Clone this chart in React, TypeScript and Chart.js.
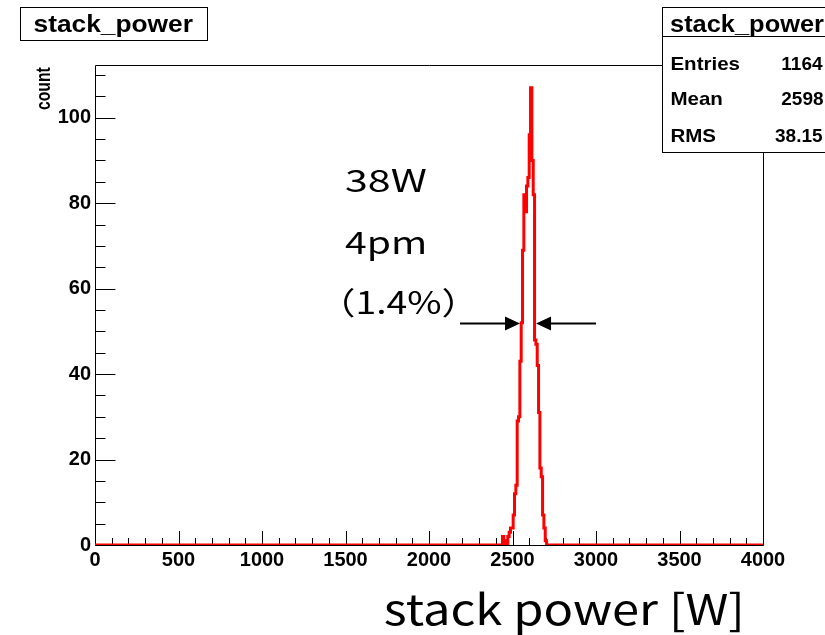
import React, { useEffect, useRef } from 'react';
import { Chart, registerables } from 'chart.js';

Chart.register(...registerables);

// ---- data ----
const binStart = 2440; // W, left edge of first listed bin
const binWidth = 8; // W
const counts = [
  2, 0, 1, 0, 2, 3, 4, 4, 7, 12, 14, 29, 30, 43, 52, 69, 82, 78, 84, 86, 96,
  107, 90, 82, 48, 47, 42, 31, 18, 16, 7, 4, 1,
];
const xMin = 0;
const xMax = 4000;
const yMin = 0;
const yMax = 112.35;
const xTickStep = 500;
const xMinorStep = 100;
const yTickStep = 20;
const yMinorStep = 5;

const histTitle = 'stack_power';
const statsLabels = ['Entries', 'Mean', 'RMS'];
const statsValues = ['1164', '2598', '38.15'];
const noteLines = ['38W', '4pm', '（1.4%）'];
const fwhmLeft = 2545;
const fwhmRight = 2641;
const fwhmLevel = 52;
const xTitle = 'stack power [W]';
const yTitle = 'count';

const BOLD = "'Liberation Sans', Arial, Helvetica, sans-serif";
const JP = "'Noto Sans CJK JP', 'Noto Sans', sans-serif";

function fitInk(ctx: CanvasRenderingContext2D, text: string, L: number, R: number, baseline: number, font: string) {
  ctx.font = font;
  ctx.textAlign = 'left';
  ctx.textBaseline = 'alphabetic';
  const m = ctx.measureText(text);
  const abl = m.actualBoundingBoxLeft;
  const abr = m.actualBoundingBoxRight;
  const inkW = abl + abr;
  const sx = inkW > 0 ? (R - L) / inkW : 1;
  const ox = L + abl * sx;
  ctx.save();
  ctx.translate(ox, baseline);
  ctx.scale(sx, 1);
  ctx.fillText(text, 0, 0);
  ctx.restore();
}

function drawScaled(
  ctx: CanvasRenderingContext2D,
  text: string,
  x: number,
  baseline: number,
  font: string,
  align: 'left' | 'right',
  sx: number
) {
  ctx.font = font;
  ctx.textAlign = 'left';
  ctx.textBaseline = 'alphabetic';
  const m = ctx.measureText(text);
  const ox = align === 'left' ? x + m.actualBoundingBoxLeft * sx : x - m.actualBoundingBoxRight * sx;
  ctx.save();
  ctx.translate(ox, baseline);
  ctx.scale(sx, 1);
  ctx.fillText(text, 0, 0);
  ctx.restore();
}

const decor = {
  id: 'decor',
  beforeDatasetsDraw(chart: any) {
    const { ctx, chartArea: a, scales } = chart;
    const x = scales.x;
    const y = scales.y;
    ctx.save();
    ctx.strokeStyle = '#000';
    ctx.lineWidth = 1;
    const L = Math.round(a.left) + 0.5;
    const T = Math.round(a.top) + 0.5;
    const R = Math.round(a.right) + 0.5;
    const B = Math.round(a.bottom) + 0.5;
    ctx.beginPath();
    ctx.moveTo(L, T);
    ctx.lineTo(R, T);
    ctx.lineTo(R, B);
    ctx.lineTo(L, B);
    ctx.closePath();
    ctx.stroke();
    ctx.beginPath();
    for (let v = xMin; v <= xMax + 1e-6; v += xMinorStep) {
      const px = Math.round(x.getPixelForValue(v)) + 0.5;
      const len = Math.abs(v % xTickStep) < 1e-6 ? 14.5 : 7.5;
      ctx.moveTo(px, B);
      ctx.lineTo(px, B - len);
    }
    for (let v = yMin; v <= yMax + 1e-6; v += yMinorStep) {
      const py = Math.round(y.getPixelForValue(v)) + 0.5;
      const len = Math.abs(v % yTickStep) < 1e-6 ? 20 : 10;
      ctx.moveTo(L, py);
      ctx.lineTo(L + len, py);
    }
    ctx.stroke();
    ctx.restore();
  },
  afterDraw(chart: any) {
    const { ctx, scales } = chart;
    const x = scales.x;
    const y = scales.y;
    ctx.save();
    ctx.fillStyle = '#000';
    ctx.strokeStyle = '#000';
    ctx.lineWidth = 1;

    // title box
    ctx.fillStyle = '#fff';
    ctx.fillRect(20.5, 7.5, 187, 33);
    ctx.strokeRect(20.5, 7.5, 187, 33);
    ctx.fillStyle = '#000';
    fitInk(ctx, histTitle, 33.5, 193, 31.5, `bold 23px ${BOLD}`);

    // stats box
    ctx.fillStyle = '#fff';
    ctx.fillRect(662.5, 7.5, 170, 145);
    ctx.strokeRect(662.5, 7.5, 170, 145);
    ctx.beginPath();
    ctx.moveTo(662.5, 36.5);
    ctx.lineTo(830, 36.5);
    ctx.stroke();
    ctx.fillStyle = '#000';
    fitInk(ctx, histTitle, 670, 824, 31.5, `bold 23px ${BOLD}`);
    const rowBase = [69.5, 105, 141.5];
    statsLabels.forEach((s, i) => drawScaled(ctx, s, 671.5, rowBase[i], `bold 19px ${BOLD}`, 'left', 1.08));
    statsValues.forEach((s, i) => drawScaled(ctx, s, 823, rowBase[i], `bold 19px ${BOLD}`, 'right', 1.0));

    // annotation
    const noteR = [426.5, 425, 453.5];
    const noteL = [345, 345, 343.5];
    const noteB = [191.5, 253.5, 313.5];
    noteLines.forEach((s, i) => fitInk(ctx, s, noteL[i], noteR[i], noteB[i], `31px ${JP}`));

    // FWHM arrows
    const ay = Math.round(y.getPixelForValue(fwhmLevel)) + 0.5;
    const lt = x.getPixelForValue(fwhmLeft);
    const rt = x.getPixelForValue(fwhmRight);
    ctx.lineWidth = 2;
    ctx.beginPath();
    ctx.moveTo(lt - 60, ay);
    ctx.lineTo(lt - 10, ay);
    ctx.moveTo(rt + 10, ay);
    ctx.lineTo(rt + 60, ay);
    ctx.stroke();
    ctx.beginPath();
    ctx.moveTo(lt, ay);
    ctx.lineTo(lt - 15, ay - 7);
    ctx.lineTo(lt - 15, ay + 7);
    ctx.closePath();
    ctx.moveTo(rt, ay);
    ctx.lineTo(rt + 15, ay - 7);
    ctx.lineTo(rt + 15, ay + 7);
    ctx.closePath();
    ctx.fill();

    // axis titles
    fitInk(ctx, xTitle, 385, 740, 625, `42px ${JP}`);
    ctx.save();
    ctx.translate(50, 110);
    ctx.rotate(-Math.PI / 2);
    fitInk(ctx, yTitle, 0, 43, 0, `bold 20px ${BOLD}`);
    ctx.restore();

    ctx.restore();
  },
};

export default function App() {
  const ref = useRef<HTMLCanvasElement | null>(null);
  useEffect(() => {
    if (!ref.current) return;
    const points: { x: number; y: number }[] = [{ x: xMin, y: 0 }];
    counts.forEach((c, i) => points.push({ x: binStart + i * binWidth, y: c }));
    points.push({ x: binStart + counts.length * binWidth, y: 0 });
    points.push({ x: xMax, y: 0 });

    const tickFont = { family: BOLD, size: 20, weight: 'bold' as const };
    const chart = new Chart(ref.current, {
      type: 'line',
      data: {
        datasets: [
          {
            data: points,
            borderColor: '#ff0000',
            borderWidth: 3,
            stepped: 'before',
            pointRadius: 0,
            fill: false,
            tension: 0,
          },
        ],
      },
      options: {
        responsive: false,
        animation: false,
        devicePixelRatio: 1,
        parsing: false as any,
        layout: { padding: { top: 65, right: 62, left: 0, bottom: 0 } },
        plugins: { legend: { display: false }, tooltip: { enabled: false }, title: { display: false } },
        scales: {
          x: {
            type: 'linear',
            min: xMin,
            max: xMax,
            afterFit: (s: any) => {
              s.height = 90;
            },
            grid: { display: false, drawTicks: false },
            border: { display: false },
            ticks: {
              stepSize: xTickStep,
              font: tickFont,
              color: '#000',
              padding: 3,
              maxRotation: 0,
              autoSkip: false,
              callback: (v: any) => String(v),
            },
          },
          y: {
            type: 'linear',
            min: yMin,
            max: yMax,
            afterFit: (s: any) => {
              s.width = 95;
            },
            grid: { display: false, drawTicks: false },
            border: { display: false },
            ticks: {
              stepSize: yTickStep,
              includeBounds: false,
              font: tickFont,
              color: '#000',
              padding: 4,
              autoSkip: false,
              callback: (v: any) => String(v),
            },
          },
        },
      },
      plugins: [decor],
    });
    return () => chart.destroy();
  }, []);

  return (
    <div style={{ position: 'absolute', left: 0, top: 0, width: 825, height: 635, background: '#fff' }}>
      <canvas ref={ref} width={825} height={635} style={{ display: 'block' }} />
    </div>
  );
}
